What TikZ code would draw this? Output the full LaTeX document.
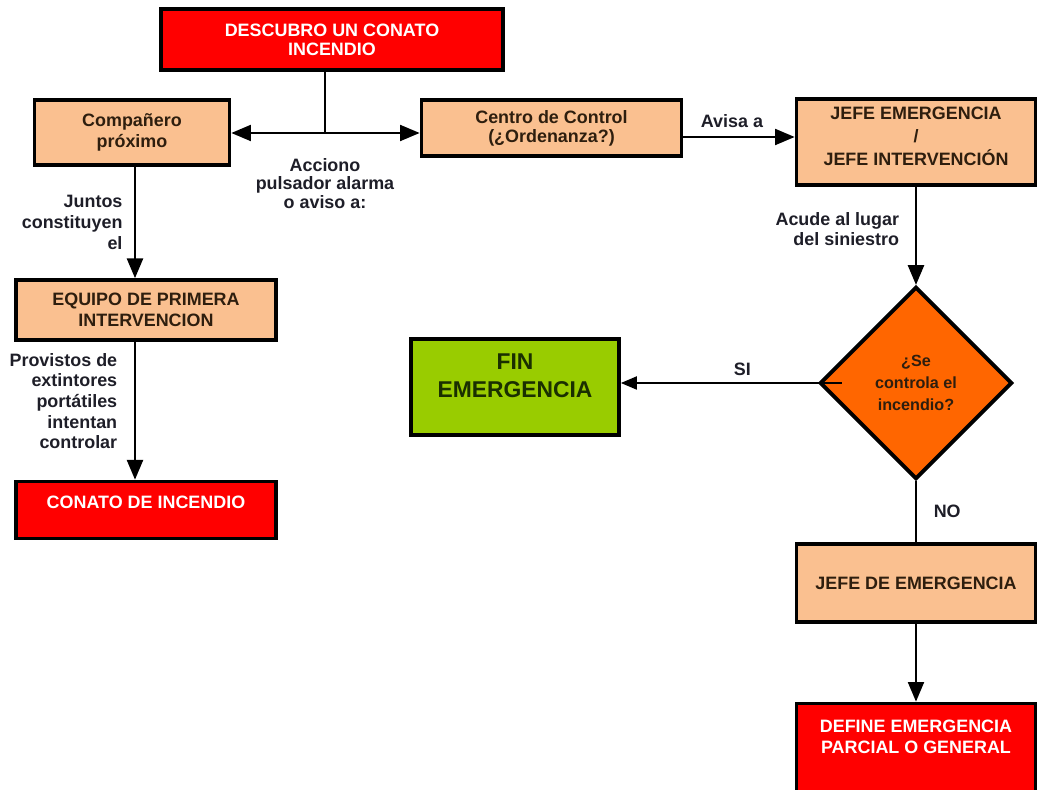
\documentclass[tikz,border=0pt]{standalone}
\usepackage{fontspec}
\setmainfont{Liberation Sans}
\usetikzlibrary{shapes,arrows,positioning}
\definecolor{firered}{HTML}{FF0000}
\definecolor{peach}{HTML}{FAC090}
\definecolor{limegreen}{HTML}{99CC00}
\definecolor{flame}{HTML}{FF6600}
\definecolor{darkbrown}{HTML}{2E1E0E}
\definecolor{darkgreen}{HTML}{1A2F00}
\definecolor{labelgray}{HTML}{1E1E28}
\tikzset{%
basebox/.style={rectangle, draw=black, line width=2.2pt, align=center, font=\bfseries\fontsize{10.2}{11.8}\selectfont},
redbox/.style={basebox, fill=firered, text=white},
peachbox/.style={basebox, fill=peach, text=darkbrown},
greenbox/.style={basebox, fill=limegreen, text=darkgreen, font=\bfseries\fontsize{13}{16}\selectfont},
decision/.style={diamond, draw=black, line width=2.2pt, fill=flame, text=darkbrown, aspect=1, inner sep=0pt, minimum size=3.85cm, align=center, font=\bfseries\fontsize{9.2}{12.4}\selectfont},
lbl/.style={text=labelgray, font=\bfseries\fontsize{10.2}{11.8}\selectfont},
pt/.style={draw=black, line width=1.6pt, ->, >=triangle 45},
ln/.style={draw=black, line width=1.6pt}
}
\begin{document}
\begin{tikzpicture}[node distance=4cm]
	\useasboundingbox (-6.64,0.79) rectangle (14.1,-15.01);
	\clip (-6.64,0.79) rectangle (14.1,-15.01);

	\node[redbox, minimum width=6.84cm, minimum height=1.22cm] (top) {DESCUBRO UN CONATO\\[-1pt]INCENDIO};
	\node[peachbox, minimum width=3.9cm, minimum height=1.3cm] (comp) [left of=top, yshift=-1.86cm] {Compañero\\próximo};
	\node[peachbox, minimum width=5.2cm, minimum height=1.13cm] (centro) [right of=top, xshift=0.39cm, yshift=-1.77cm] {Centro de Control\\[-1pt](¿Ordenanza?)};
	\node[peachbox, minimum width=4.78cm, minimum height=1.73cm, text depth=0.24cm, font=\bfseries\fontsize{10.2}{13}\selectfont] (jefe) [right of=centro, xshift=3.29cm, yshift=-0.28cm] {JEFE EMERGENCIA\\/\\JEFE INTERVENCIÓN};
	\node[peachbox, minimum width=5.2cm, minimum height=1.2cm] (equipo) [below of=comp, xshift=0.28cm, yshift=0.45cm] {EQUIPO DE PRIMERA\\INTERVENCION};
	\node[redbox, minimum width=5.2cm, minimum height=1.14cm, text depth=0.32cm] (conato) [below of=equipo] {CONATO DE INCENDIO};
	\node[decision] (dia) [below of=jefe, yshift=-0.82cm] {¿Se\\controla el\\incendio?};
	\node[greenbox, minimum width=4.16cm, minimum height=1.92cm, text depth=0.44cm] (fin) [left of=dia, xshift=-4.02cm, yshift=-0.08cm] {FIN\\EMERGENCIA};
	\node[peachbox, minimum width=4.78cm, minimum height=1.55cm] (jefede) [below of=dia] {JEFE DE EMERGENCIA};
	\node[redbox, minimum width=4.78cm, minimum height=2cm, text depth=0.68cm] (define) [below of=jefede, yshift=0.59cm] {DEFINE EMERGENCIA\\PARCIAL O GENERAL};

	\coordinate (split) at (-0.14,-1.87);
	\coordinate (lx) at (-3.94,0);
	\coordinate (ay) at (0,-1.95);

	\path (top.south -| split) edge[ln] (split);
	\path (split) edge[pt] (split -| comp.east);
	\path (split) edge[pt] (split -| centro.west);
	\node[lbl, align=center, font=\bfseries\fontsize{10.2}{10.6}\selectfont] (acc) [below=0.38cm of split] {Acciono\\pulsador alarma\\o aviso a:};

	\path (comp.south -| lx) edge[pt] node[lbl, left, align=right, xshift=-3pt] {Juntos\\constituyen\\el} (equipo.north -| lx);
	\path (equipo.south -| lx) edge[pt] node[lbl, left, align=right, pos=0.43, xshift=-6pt] {Provistos de\\extintores\\portátiles\\intentan\\controlar} (conato.north -| lx);
	\path (centro.east |- ay) edge[pt] node[lbl, above, xshift=-4pt, yshift=1pt] {Avisa a} (jefe.west |- ay);
	\path (jefe) edge[pt] node[lbl, left, align=right, pos=0.43, xshift=-5.5pt] {Acude al lugar\\del siniestro} (dia);
	\path ([xshift=0.48cm]dia.west) edge[pt, line width=1.1pt] node[lbl, above, pos=0.45] {SI} (dia.west -| fin.east);
	\path (dia) edge[ln] node[lbl, right, xshift=6pt] {NO} (jefede);
	\path (jefede) edge[pt] (define);
\end{tikzpicture}
\end{document}
